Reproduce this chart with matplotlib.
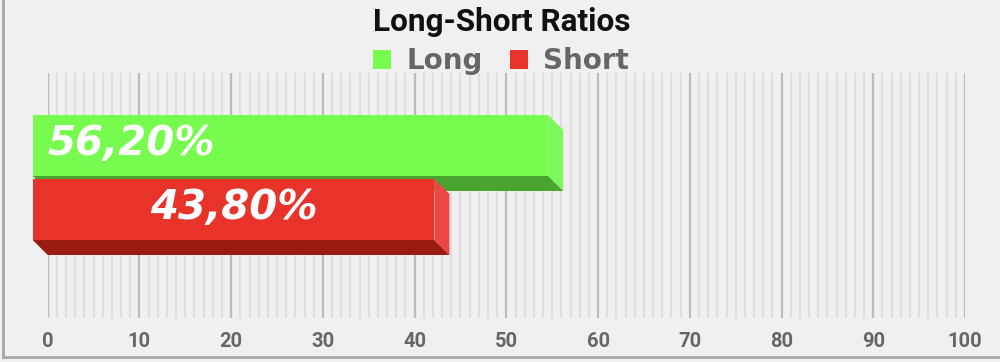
import matplotlib
matplotlib.use("Agg")
import matplotlib.pyplot as plt
from matplotlib.patches import Polygon, Patch
from matplotlib.lines import Line2D
import numpy as np

# data
series = ["Long", "Short"]
values = [56.2, 43.8]
labels = ["56,20%", "43,80%"]
x_ticks = [0, 10, 20, 30, 40, 50, 60, 70, 80, 90, 100]

# colours: front, right side, bottom
front_colors = ["#77fb4e", "#e8332a"]
side_colors = ["#7af85c", "#eb4845"]
bottom_colors = ["#4aa22f", "#9a1b12"]

BG = "#f0f0f0"
W, H = 1000, 362

fig = plt.figure(figsize=(10, 3.62), dpi=100, facecolor=BG)
ax_left, ax_right, ax_top, ax_bot = 47.7, 965.0, 72.7, 318.0
ax = fig.add_axes([ax_left / W, 1 - ax_bot / H, (ax_right - ax_left) / W,
                   (ax_bot - ax_top) / H])
ax.set_facecolor(BG)

bar_px = 61.0
span = (ax_bot - ax_top) / bar_px
ax.set_xlim(0, 100)
ax.set_ylim(span, 0)

px_x = (ax_right - ax_left) / 100.0
dx = 15.0 / px_x          # depth, data units
dy = 15.0 / bar_px

# grid
ax.set_xticks(x_ticks)
ax.set_xticks(np.arange(0, 101, 1), minor=True)
ax.grid(which="minor", axis="x", color="#dedede", lw=1.6, zorder=0)
ax.grid(which="major", axis="x", color="#bcbcbc", lw=1.6, zorder=0)
ax.axvline(0, color="#111111", lw=1.5, zorder=1)
ax.set_yticks([])
for s in ax.spines.values():
    s.set_visible(False)
ax.tick_params(axis="x", which="both", length=0, pad=10)
for t in ax.get_xticklabels():
    t.set_fontfamily("Roboto")
    t.set_fontweight("bold")
    t.set_fontsize(14.5)
    t.set_color("#666666")

y_first = (115 - ax_top) / bar_px + 0.5
y_step = (179 - 115) / bar_px
for i, (v, lab) in enumerate(zip(values, labels)):
    yc = y_first + i * y_step
    yt, yb = yc - 0.5, yc + 0.5
    z = 3 + i
    bottom = Polygon([(-dx, yb), (v - dx, yb), (v, yb + dy), (0, yb + dy)],
                     closed=True, fc=bottom_colors[i], ec="none",
                     clip_on=False, zorder=z)
    side = Polygon([(v - dx, yt), (v, yt + dy), (v, yb + dy), (v - dx, yb)],
                   closed=True, fc=side_colors[i], ec="none",
                   clip_on=False, zorder=z)
    ax.add_patch(bottom)
    ax.add_patch(side)
    bars = ax.barh([yc], [v], left=-dx, height=1.0, color=front_colors[i],
                   edgecolor="none", zorder=z)
    for b in bars:
        b.set_clip_on(False)
    if i == 0:
        tx, ha = 0.0, "left"
    else:
        tx, ha = v / 2 - dx, "center"
    ax.text(tx, yc - 0.03, lab, ha=ha, va="center", color="white",
            fontsize=29, fontweight="bold", fontstyle="oblique",
            family="DejaVu Sans", zorder=10)

# title
fig.text(501.5 / W, 1 - 30.7 / H, "Long-Short Ratios", ha="center",
         va="baseline", family="Roboto", fontweight="bold", fontsize=22.7,
         color="#111111")

# legend
handles = [Patch(fc=c, ec="none") for c in front_colors]
fig.legend(handles, series, loc="center", bbox_to_anchor=(501 / W, 1 - 61 / H),
           ncol=2, frameon=False, handlelength=0.67, handleheight=0.67,
           handletextpad=0.55, columnspacing=0.96,
           prop={"family": "DejaVu Sans", "weight": "bold", "size": 20},
           labelcolor="#666666", borderaxespad=0, borderpad=0)

# outer frame (left and bottom edges)
fig.add_artist(Line2D([2.5 / W, 2.5 / W], [1 - 357 / H, 1], color="#a8a8a8",
                      lw=2, transform=fig.transFigure))
fig.add_artist(Line2D([2.5 / W, 1], [1 - 357 / H, 1 - 357 / H],
                      color="#a8a8a8", lw=2, transform=fig.transFigure))

fig.savefig("out.png", dpi=100, facecolor=BG)
